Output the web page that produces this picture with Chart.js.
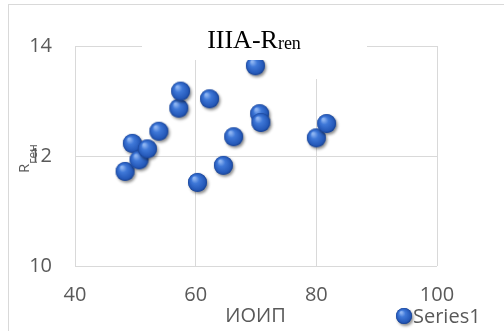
<!DOCTYPE html>
<html>
<head>
<meta charset="utf-8">
<script src="https://cdn.jsdelivr.net/npm/chart.js@4.4.1/dist/chart.umd.min.js"></script>
<style>
  html, body { margin: 0; padding: 0; background: #fff; }
  #wrap { width: 504px; height: 331px; }
</style>
</head>
<body>
<div id="wrap"><canvas id="scatterChart" width="504" height="331"></canvas></div>
<script>
// values
const xValues = [48.3, 49.5, 50.6, 52.0, 53.9, 57.2, 57.5, 60.3, 62.3, 64.6, 66.3, 69.9, 70.6, 70.8, 80.0, 81.7];
const yValues = [11.72, 12.23, 11.93, 12.13, 12.45, 12.87, 13.18, 11.52, 13.04, 11.83, 12.35, 13.64, 12.77, 12.61, 12.33, 12.59];
const xTicks = [40, 60, 80, 100];
const yTicks = [10, 12, 14];
const seriesName = "Series1";
const xTitle = "ИОИП";

const gray = "#595959";
const gridGray = "#d9d9d9";

// little shaded blue ball, like the office marker
function makeBall(r) {
  const size = Math.ceil(r * 2 + 10);
  const c = document.createElement("canvas");
  c.width = size;
  c.height = size;
  const g = c.getContext("2d");
  const cx = size / 2, cy = size / 2;
  g.save();
  g.shadowColor = "rgba(0,0,0,0.45)";
  g.shadowBlur = 3;
  g.shadowOffsetX = 1.5;
  g.shadowOffsetY = 2;
  g.fillStyle = "#2a5cb8";
  g.beginPath(); g.arc(cx, cy, r, 0, Math.PI * 2); g.fill();
  g.restore();
  const grad = g.createRadialGradient(cx - r * 0.35, cy - r * 0.45, r * 0.1, cx, cy, r);
  grad.addColorStop(0, "#8db4f2");
  grad.addColorStop(0.35, "#3f78d8");
  grad.addColorStop(0.85, "#2458b8");
  grad.addColorStop(1, "#183f8c");
  g.fillStyle = grad;
  g.beginPath(); g.arc(cx, cy, r, 0, Math.PI * 2); g.fill();
  return c;
}

const ball = makeBall(9.5);
const legendBall = makeBall(8);

const points = xValues.map((x, i) => ({ x: x, y: yValues[i] }));

const extras = {
  id: "extras",
  beforeDraw(chart) {
    const ctx = chart.ctx;
    ctx.save();
    ctx.strokeStyle = gridGray;
    ctx.lineWidth = 1;
    ctx.strokeRect(8.5, 4.5, 600, 400);
    ctx.restore();
  },
  afterDraw(chart) {
    const ctx = chart.ctx;
    ctx.save();

    // white title box laid over the plot
    ctx.fillStyle = "#fff";
    ctx.fillRect(142, 30, 225, 30);
    ctx.fillRect(300, 60, 67, 19);

    // title IIIA-R with subscript
    ctx.fillStyle = "#000";
    ctx.textBaseline = "alphabetic";
    ctx.textAlign = "left";
    const mainFont = "26px 'Liberation Serif', 'Times New Roman', serif";
    const subFont = "18px 'Liberation Serif', 'Times New Roman', serif";
    ctx.font = mainFont;
    const w1 = ctx.measureText("IIIA-R").width;
    ctx.font = subFont;
    const w2 = ctx.measureText("ren").width;
    const tx = 254 - (w1 + w2) / 2;
    ctx.font = mainFont;
    ctx.fillText("IIIA-R", tx, 48);
    ctx.font = subFont;
    ctx.fillText("ren", tx + w1, 49);

    // y title, rotated
    ctx.fillStyle = gray;
    ctx.translate(29, 173);
    ctx.rotate(-Math.PI / 2);
    ctx.font = "15px 'Open Sans', sans-serif";
    ctx.fillText("R", 0, 0);
    const rw = ctx.measureText("R").width;
    ctx.font = "12px 'Open Sans', sans-serif";
    ctx.fillText("ген", rw, 8);
    ctx.setTransform(1, 0, 0, 1, 0, 0);

    // x title
    ctx.font = "20px 'Open Sans', sans-serif";
    ctx.textAlign = "center";
    ctx.fillText(xTitle, 255.5, 322);

    // legend
    ctx.drawImage(legendBall, 404 - legendBall.width / 2, 316 - legendBall.height / 2);
    ctx.textAlign = "left";
    ctx.fillText(seriesName, 413, 323);

    ctx.restore();
  }
};

new Chart(document.getElementById("scatterChart"), {
  type: "scatter",
  data: {
    datasets: [{
      label: seriesName,
      data: points,
      pointStyle: ball,
      pointRadius: 9,
      pointHoverRadius: 9
    }]
  },
  options: {
    responsive: false,
    animation: false,
    layout: { padding: { left: 0, right: 67, top: 46, bottom: 0 } },
    plugins: {
      legend: { display: false },
      title: { display: false },
      tooltip: { enabled: false }
    },
    scales: {
      x: {
        type: "linear",
        min: xTicks[0],
        max: xTicks[xTicks.length - 1],
        afterBuildTicks: (s) => { s.ticks = xTicks.map(v => ({ value: v })); },
        afterFit: (s) => { s.height = 65; },
        grid: { color: gridGray, drawTicks: false },
        border: { display: false },
        ticks: {
          color: gray,
          padding: 17,
          maxRotation: 0,
          font: { family: "'Open Sans', sans-serif", size: 20 }
        }
      },
      y: {
        type: "linear",
        min: yTicks[0],
        max: yTicks[yTicks.length - 1],
        afterBuildTicks: (s) => { s.ticks = yTicks.map(v => ({ value: v })); },
        afterFit: (s) => { s.width = 75; },
        grid: { color: gridGray, drawTicks: false },
        border: { display: false },
        ticks: {
          color: gray,
          padding: 23,
          font: { family: "'Open Sans', sans-serif", size: 20 }
        }
      }
    }
  },
  plugins: [extras]
});
</script>
</body>
</html>
